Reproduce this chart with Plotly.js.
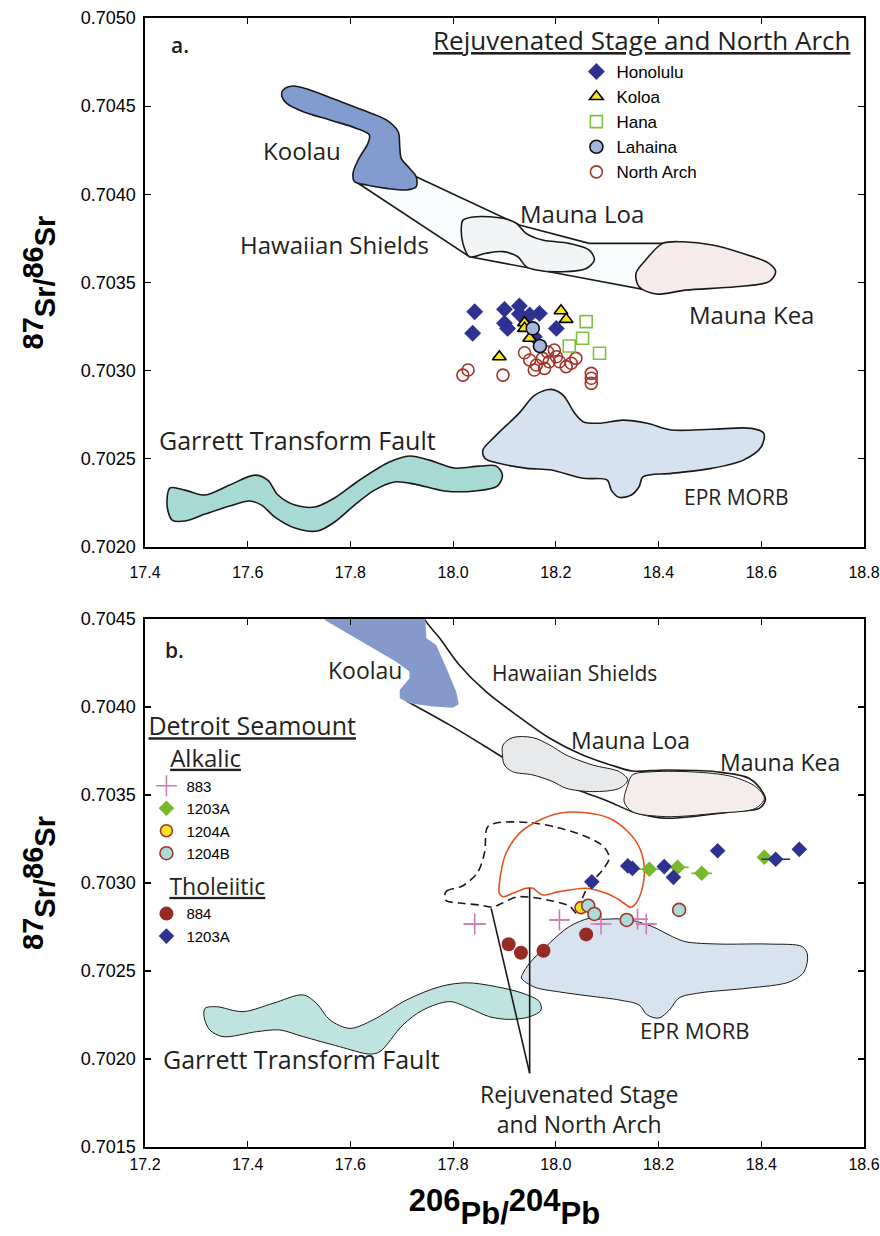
<!DOCTYPE html>
<html>
<head>
<meta charset="utf-8">
<script src="https://cdn.plot.ly/plotly-3.0.1.min.js"></script>
<style>html,body{margin:0;padding:0;background:#fff;}#chart{width:880px;height:1236px;}</style>
</head>
<body>
<div id="chart"></div>
<script>
// ---------------- Panel a: fields (data units: 206Pb/204Pb, 87Sr/86Sr) ----------------
const koolauA_x = [17.773,17.824,17.870,17.893,17.896,17.899,17.915,17.928,17.928,17.909,17.870,17.831,17.808,17.805,17.815,17.834,17.837,17.812,17.760,17.708,17.676,17.666,17.669,17.688,17.721];
const koolauA_y = [0.704535,0.704478,0.704422,0.704355,0.70427,0.704204,0.704148,0.7041,0.704043,0.704025,0.704034,0.704053,0.704072,0.704119,0.704195,0.704289,0.704336,0.704374,0.704422,0.704469,0.704516,0.704563,0.704592,0.704614,0.704592];
const shieldsA_x = [17.928,18.129,18.265,18.421,18.382,18.032,17.815,17.928];
const shieldsA_y = [0.7041,0.703826,0.703722,0.703722,0.703454,0.703646,0.704063,0.7041];
const maunaLoaA_x = [18.097,18.123,18.142,18.174,18.226,18.265,18.275,18.259,18.213,18.162,18.142,18.126,18.097,18.064,18.032,18.019,18.016,18.019,18.045];
const maunaLoaA_y = [0.703864,0.703836,0.703779,0.703741,0.703722,0.703684,0.703628,0.70358,0.703561,0.703571,0.70359,0.703646,0.703675,0.703666,0.703646,0.703722,0.703816,0.703854,0.703873];
const maunaKeaA_x = [18.447,18.505,18.563,18.615,18.628,18.615,18.550,18.453,18.395,18.362,18.356,18.375,18.408];
const maunaKeaA_y = [0.703731,0.703713,0.703666,0.703609,0.703561,0.703505,0.703476,0.703457,0.703435,0.703476,0.703552,0.703628,0.703722];
const garrettA_x = [17.818,17.876,17.915,17.954,18.003,18.051,18.084,18.096,18.086,18.042,17.983,17.925,17.886,17.847,17.808,17.769,17.736,17.692,17.653,17.627,17.604,17.565,17.517,17.478,17.453,17.443,17.449,17.478,17.517,17.565,17.614,17.639,17.659,17.692,17.731,17.769];
const garrettA_y = [0.70238,0.702482,0.702516,0.702493,0.702448,0.702459,0.702459,0.702408,0.702346,0.702318,0.702318,0.702357,0.702369,0.702323,0.702238,0.702142,0.702091,0.702108,0.70217,0.702238,0.702261,0.702233,0.702187,0.702148,0.702153,0.702238,0.702335,0.702323,0.702295,0.702352,0.702408,0.70238,0.702295,0.702238,0.702227,0.702278];
const eprA_x = [18.331,18.378,18.425,18.503,18.581,18.605,18.600,18.565,18.503,18.425,18.370,18.362,18.347,18.323,18.308,18.300,18.253,18.191,18.144,18.089,18.062,18.058,18.081,18.128,18.159,18.191,18.214,18.237,18.253,18.284];
const eprA_y = [0.70272,0.702702,0.702664,0.702668,0.702673,0.702645,0.702569,0.702493,0.702446,0.702418,0.702399,0.702342,0.702295,0.702282,0.702323,0.70238,0.70239,0.702437,0.702446,0.702475,0.702503,0.70255,0.702626,0.702758,0.702862,0.702894,0.702862,0.702758,0.702711,0.702702];

// ---------------- Panel a: samples ----------------
const honoluluX = [18.042,18.100,18.129,18.129,18.149,18.168,18.100,18.106,18.038,18.201,18.158];
const honoluluY = [0.703334,0.703348,0.703367,0.703321,0.703316,0.703325,0.703269,0.70324,0.703212,0.70324,0.703193];
const koloaX = [18.210,18.220,18.139,18.139,18.149,18.090];
const koloaY = [0.70334,0.703291,0.703272,0.70324,0.703184,0.703079];
const hanaX = [18.259,18.252,18.226,18.285];
const hanaY = [0.703278,0.703184,0.70314,0.703099];
const lahainaX = [18.155,18.169];
const lahainaY = [0.70324,0.70314];
const northArchX = [18.139,18.149,18.174,18.162,18.158,18.178,18.197,18.201,18.207,18.220,18.239,18.230,18.019,18.029,18.097,18.269,18.269,18.269,18.187,18.184];
const northArchY = [0.703102,0.703061,0.70307,0.703032,0.703004,0.703013,0.703117,0.703079,0.703051,0.703023,0.70307,0.703042,0.702975,0.703004,0.702975,0.702985,0.702957,0.702928,0.703051,0.703106];

// ---------------- Panel b: fields ----------------
const koolauB_x = [17.550,17.744,17.748,17.767,17.787,17.806,17.811,17.799,17.761,17.715,17.696,17.696,17.715,17.715,17.689,17.644,17.599,17.550];
const koolauB_y = [0.70458,0.70458,0.70439,0.704352,0.70422,0.704087,0.704015,0.703996,0.704002,0.704021,0.704049,0.704097,0.704163,0.704201,0.704257,0.704334,0.704409,0.704494];
const shieldsB_x = [17.735,17.744,17.774,17.812,17.864,17.923,17.988,18.052,18.117,18.149,18.214,18.312,18.376,18.402,18.408,18.396,18.344,18.214,18.149,18.104,18.052,17.988,17.923,17.858,17.793,17.709];
const shieldsB_y = [0.70458,0.7045,0.70439,0.704239,0.704087,0.703955,0.703822,0.703727,0.703661,0.703636,0.703642,0.703632,0.703595,0.703519,0.703472,0.703424,0.703405,0.703368,0.703405,0.703462,0.703519,0.703595,0.70367,0.703784,0.703898,0.704034];
const maunaLoaB_x = [17.916,17.955,17.988,18.020,18.072,18.124,18.140,18.124,18.072,18.020,17.994,17.955,17.916,17.900,17.896,17.897];
const maunaLoaB_y = [0.703826,0.703826,0.703784,0.703727,0.70367,0.703632,0.703585,0.703538,0.703519,0.703538,0.703576,0.703614,0.703632,0.70367,0.703727,0.703784];
const maunaKeaB_x = [18.188,18.279,18.344,18.389,18.406,18.389,18.312,18.214,18.149,18.133,18.140,18.149];
const maunaKeaB_y = [0.703632,0.703629,0.703604,0.703547,0.703481,0.703424,0.703396,0.703377,0.703405,0.703462,0.703557,0.703614];
const garrettB_x = [17.774,17.826,17.884,17.936,17.968,17.971,17.949,17.910,17.871,17.832,17.793,17.741,17.702,17.657,17.637,17.579,17.508,17.462,17.417,17.352,17.326,17.315,17.317,17.339,17.391,17.449,17.508,17.534,17.560,17.599,17.644,17.709];
const garrettB_y = [0.702411,0.702433,0.702411,0.702373,0.702326,0.702278,0.70224,0.702225,0.70224,0.702288,0.702326,0.702278,0.702193,0.702041,0.702028,0.70207,0.702127,0.702165,0.702155,0.702127,0.702165,0.70224,0.702288,0.702297,0.702269,0.702316,0.702364,0.702316,0.702222,0.702174,0.702222,0.702335];
const eprB_x = [18.318,18.415,18.480,18.490,18.483,18.454,18.376,18.279,18.240,18.221,18.201,18.178,18.162,18.124,18.065,18.007,17.958,17.933,17.936,17.949,17.988,18.026,18.065,18.085,18.137,18.188,18.227,18.253];
const eprB_y = [0.702653,0.702653,0.702638,0.702591,0.702494,0.702437,0.702403,0.702375,0.702347,0.702278,0.702233,0.70225,0.702307,0.702335,0.702358,0.702381,0.702409,0.70246,0.702487,0.702545,0.702659,0.702752,0.702799,0.702794,0.702794,0.702752,0.702695,0.702666];
const rejuvB_x = [17.783,17.787,17.818,17.847,17.861,17.867,17.884,17.949,18.007,18.065,18.094,18.104,18.091,18.079,18.059,18.052,18.046,18.042,18.026,17.993,17.949,17.923,17.896,17.877,17.851,17.812,17.787];
const rejuvB_y = [0.70292,0.702954,0.702983,0.703057,0.70317,0.703318,0.703341,0.703343,0.703312,0.703256,0.703204,0.703142,0.703074,0.703034,0.70296,0.702915,0.702864,0.702824,0.70287,0.702898,0.70292,0.70292,0.702886,0.702864,0.702875,0.702886,0.702898];
const detroitB_x = [18.007,18.059,18.104,18.137,18.162,18.172,18.169,18.156,18.146,18.124,18.098,18.059,18.007,17.974,17.955,17.942,17.916,17.897,17.890,17.894,17.903,17.929,17.962];
const detroitB_y = [0.703396,0.703399,0.703368,0.703301,0.703206,0.703093,0.702979,0.702885,0.702862,0.702903,0.702941,0.70297,0.702951,0.702932,0.70297,0.70297,0.702941,0.702922,0.702941,0.703074,0.703169,0.703282,0.703348];
// leader lines from the "Rejuvenated Stage and North Arch" label
const leaderStartX = [17.874,17.949];
const leaderStartY = [0.702856,0.70297];
const leaderEndX = 17.949, leaderEndY = 0.701919;

// ---------------- Panel b: Detroit Seamount samples ----------------
const s883X = [17.842,18.007,18.088,18.159,18.176];
const s883Y = [0.702767,0.70279,0.702767,0.702794,0.702767];
const s883Err = [0.022,0.020,0.010,0.015,0.020];
const alk1203X = [18.182,18.237,18.284,18.406];
const alk1203Y = [0.703078,0.703089,0.703055,0.703146];
const alk1203Err = [0.020,0.022,0.020,0.012];
const s1204AX = [18.049];
const s1204AY = [0.70286];
const s1204BX = [18.063,18.075,18.138,18.240];
const s1204BY = [0.702871,0.702824,0.70279,0.702847];
const s884X = [17.908,17.932,17.976,18.059];
const s884Y = [0.702652,0.702604,0.702615,0.702708];
const thol1203X = [18.070,18.140,18.149,18.211,18.229,18.315,18.428,18.474];
const thol1203Y = [0.703007,0.703097,0.703083,0.703093,0.703032,0.703183,0.703135,0.703191];
const thol1203Err = [0,0,0,0,0,0,0.028,0];

// ---------------- Axis ranges and tick labels ----------------
const xRangeA = [17.4,18.8], yRangeA = [0.7020,0.7050];
const xRangeB = [17.2,18.6], yRangeB = [0.7015,0.7045];
const xMinor = 0.05, yMinor = 0.0001;
const xTicksA = [17.4,17.6,17.8,18.0,18.2,18.4,18.6,18.8];
const yTicksA = [0.7020,0.7025,0.7030,0.7035,0.7040,0.7045,0.7050];
const xTicksB = [17.2,17.4,17.6,17.8,18.0,18.2,18.4,18.6];
const yTicksB = [0.7015,0.7020,0.7025,0.7030,0.7035,0.7040,0.7045];

// ---------------- Text labels ----------------
const labelsA = ['Koolau','Mauna Loa','Hawaiian Shields','Mauna Kea','Garrett Transform Fault','EPR MORB'];
const labelsAX = [17.705,18.250,17.769,18.580,17.696,18.551];
const labelsAY = [0.704251,0.703894,0.703713,0.703316,0.702607,0.702284];
const labelsASize = [24,24,24,24,25,21];
const labelsB = ['Koolau','Hawaiian Shields','Mauna Loa','Mauna Kea','EPR MORB','Garrett Transform Fault','Rejuvenated Stage<br>and North Arch'];
const labelsBX = [17.628,18.036,18.145,18.437,18.269,17.505,18.046];
const labelsBY = [0.70421,0.704193,0.703812,0.703687,0.702165,0.702,0.701716];
const labelsBSize = [23,21,23,23,22,25,23];

const fieldFamily = 'Open Sans, Noto Sans, sans-serif';
const helv = 'Liberation Sans, Arial, Helvetica, sans-serif';
const sized = (t, s) => '<span style="font-size:'+s+'px">'+t+'</span>';

function field(x, y, fill, xa, ya, opts) {
  opts = opts || {};
  const closed = fill !== null || opts.closed;
  return {
    type:'scatter', mode:'lines',
    x: closed ? x.concat([x[0]]) : x, y: closed ? y.concat([y[0]]) : y,
    xaxis:xa, yaxis:ya,
    fill: fill ? 'toself' : 'none', fillcolor: fill || 'rgba(0,0,0,0)',
    line:{color: opts.lineColor || '#1a1a1a', width: opts.width || 1.6, shape: opts.shape || 'spline', smoothing: 0.9, dash: opts.dash || 'solid'},
    showlegend:false, hoverinfo:'skip'
  };
}

const traces = [
  field(shieldsA_x, shieldsA_y, 'rgba(242,250,253,0.35)', 'x', 'y', {shape:'linear'}),
  field(koolauA_x, koolauA_y, '#839ccf', 'x', 'y'),
  field(maunaLoaA_x, maunaLoaA_y, '#f3f4f6', 'x', 'y'),
  field(maunaKeaA_x, maunaKeaA_y, '#f6eaeb', 'x', 'y'),
  field(garrettA_x, garrettA_y, '#a8dad5', 'x', 'y'),
  field(eprA_x, eprA_y, '#d7e2f0', 'x', 'y'),
  {type:'scatter', mode:'markers', name:'North Arch', x:northArchX, y:northArchY, xaxis:'x', yaxis:'y', legend:'legend', legendrank:5,
   marker:{symbol:'circle-open', size:12, color:'#a3342b', line:{width:1.6}}},
  {type:'scatter', mode:'markers', name:'Hana', x:hanaX, y:hanaY, xaxis:'x', yaxis:'y', legend:'legend', legendrank:3,
   marker:{symbol:'square-open', size:12, color:'#7dc142', line:{width:1.6}}},
  {type:'scatter', mode:'markers', name:'Honolulu', x:honoluluX, y:honoluluY, xaxis:'x', yaxis:'y', legend:'legend', legendrank:1,
   marker:{symbol:'diamond', size:13, color:'#2e3192'}},
  {type:'scatter', mode:'markers', name:'Koloa', x:koloaX, y:koloaY, xaxis:'x', yaxis:'y', legend:'legend', legendrank:2,
   marker:{symbol:'triangle-up', size:12, color:'#f7e51c', line:{color:'#000', width:1.6}}},
  {type:'scatter', mode:'markers', name:'Lahaina', x:lahainaX, y:lahainaY, xaxis:'x', yaxis:'y', legend:'legend', legendrank:4,
   marker:{symbol:'circle', size:13, color:'#a4b6de', line:{color:'#111', width:1.6}}},
  field(shieldsB_x, shieldsB_y, null, 'x2', 'y2'),
  field(koolauB_x, koolauB_y, '#8599cb', 'x2', 'y2', {lineColor:'rgba(0,0,0,0)', width:0.1, shape:'linear'}),
  field(maunaLoaB_x, maunaLoaB_y, '#e8e9eb', 'x2', 'y2', {width:1}),
  field(maunaKeaB_x, maunaKeaB_y, '#f5ecec', 'x2', 'y2', {width:1}),
  field(garrettB_x, garrettB_y, '#bfe4e0', 'x2', 'y2', {width:1}),
  field(eprB_x, eprB_y, '#d8e3f0', 'x2', 'y2', {width:1}),
  field(rejuvB_x, rejuvB_y, null, 'x2', 'y2', {dash:'8px,5px', width:1.6, closed:true}),
  field(detroitB_x, detroitB_y, null, 'x2', 'y2', {lineColor:'#e4501e', width:1.6, closed:true}),
  {type:'scatter', mode:'markers', name:'883', x:s883X, y:s883Y, xaxis:'x2', yaxis:'y2', legend:'legend2', legendrank:1,
   legendgroup:'alk', legendgrouptitle:{text:'&nbsp;&nbsp;&nbsp;<u>Alkalic</u>', font:{family:fieldFamily, size:24, color:'#231f20'}},
   error_x:{type:'data', array:s883Err, color:'#d27ab4', thickness:1.6, width:0},
   marker:{symbol:'cross-thin', size:15, color:'#d27ab4', line:{color:'#d27ab4', width:1.6}}},
  {type:'scatter', mode:'markers', name:'1203A', x:alk1203X, y:alk1203Y, xaxis:'x2', yaxis:'y2', legend:'legend2', legendrank:2,
   legendgroup:'alk',
   error_x:{type:'data', array:alk1203Err, color:'#78b829', thickness:1.6, width:0},
   marker:{symbol:'diamond', size:12, color:'#78b829'}},
  {type:'scatter', mode:'markers', name:'1204A', x:s1204AX, y:s1204AY, xaxis:'x2', yaxis:'y2', legend:'legend2', legendrank:3,
   legendgroup:'alk',
   marker:{symbol:'circle', size:12, color:'#f7e41b', line:{color:'#a3342b', width:1.6}}},
  {type:'scatter', mode:'markers', name:'1204B', x:s1204BX, y:s1204BY, xaxis:'x2', yaxis:'y2', legend:'legend2', legendrank:4,
   legendgroup:'alk',
   marker:{symbol:'circle', size:13, color:'#a9dcd7', line:{color:'#a3342b', width:1.6}}},
  {type:'scatter', mode:'markers', name:'884', x:s884X, y:s884Y, xaxis:'x2', yaxis:'y2', legend:'legend2', legendrank:5,
   legendgroup:'thol', legendgrouptitle:{text:'&nbsp;&nbsp;&nbsp;<u>Tholeiitic</u>', font:{family:fieldFamily, size:23, color:'#231f20'}},
   marker:{symbol:'circle', size:14, color:'#962a24'}},
  {type:'scatter', mode:'markers', name:'1203A', x:thol1203X, y:thol1203Y, xaxis:'x2', yaxis:'y2', legend:'legend2', legendrank:6,
   legendgroup:'thol',
   error_x:{type:'data', array:thol1203Err, color:'#2e3192', thickness:1.6, width:0},
   marker:{symbol:'diamond', size:12, color:'#2e3192'}}
];

const annotations = [];
labelsA.forEach((t,i)=>annotations.push({text:t, x:labelsAX[i], y:labelsAY[i], xref:'x', yref:'y', showarrow:false,
  font:{family:fieldFamily, size:labelsASize[i], color:'#231f20'}}));
labelsB.forEach((t,i)=>annotations.push({text:t, x:labelsBX[i], y:labelsBY[i], xref:'x2', yref:'y2', showarrow:false,
  font:{family:fieldFamily, size:labelsBSize[i], color:'#231f20'}}));
annotations.push({text:'a.', x:17.468, y:0.704847, xref:'x', yref:'y', showarrow:false, font:{family:fieldFamily, size:21, color:'#231f20', weight:600}});
annotations.push({text:'b.', x:17.258, y:0.704324, xref:'x2', yref:'y2', showarrow:false, font:{family:fieldFamily, size:21, color:'#231f20', weight:600}});
annotations.push({text:'<u>Rejuvenated Stage and North Arch</u>', x:18.366, y:0.704876, xref:'x', yref:'y', showarrow:false,
  font:{family:fieldFamily, size:26, color:'#231f20'}});

const shapes = leaderStartX.map((x0,i)=>({type:'line', xref:'x2', yref:'y2', x0:x0, y0:leaderStartY[i], x1:leaderEndX, y1:leaderEndY, line:{color:'#1a1a1a', width:1.6}}));

function majorAxis(vals, digits, size, extra) {
  return Object.assign({
    showline:true, linecolor:'#000', linewidth:1.6, mirror:'allticks',
    ticks:'inside', ticklen:6, tickwidth:1.2, tickcolor:'#000',
    tickmode:'array', tickvals:vals, ticktext:vals.map(v=>sized(v.toFixed(digits), size)),
    tickfont:{family:helv, size:size, color:'#000'},
    showgrid:false, zeroline:false, fixedrange:true, ticklabeloverflow:'allow'
  }, extra);
}
function minorAxis(extra) {
  return Object.assign({
    showline:false, mirror:'ticks', ticks:'inside', ticklen:5, tickwidth:1.1, tickcolor:'#000',
    showticklabels:false, showgrid:false, zeroline:false, fixedrange:true
  }, extra);
}

const supNum = (n, s) => '<sup><span style="font-size:'+s+'px">'+n+'</span></sup>';
const yTitle = {text: supNum('87',29)+'Sr/'+supNum('86',29)+'Sr', font:{family:helv, size:29, color:'#000', weight:'bold'}, standoff:16};
const domYA = [0.5314,1], domYB = [0,0.4677];

const layout = {
  width:880, height:1236,
  margin:{l:145, r:16, t:18, b:89},
  paper_bgcolor:'#fff', plot_bgcolor:'#fff',
  font:{family:helv, size:18, color:'#000'},
  showlegend:true,
  xaxis: majorAxis(xTicksA, 1, 16, {domain:[0,1], range:xRangeA, anchor:'y', ticklabelstandoff:10}),
  yaxis: majorAxis(yTicksA, 4, 18, {domain:domYA, range:yRangeA, anchor:'x', ticklabelstandoff:4, title:yTitle}),
  xaxis2: majorAxis(xTicksB, 1, 16, {domain:[0,1], range:xRangeB, anchor:'y2', ticklabelstandoff:2,
    title:{text: supNum('206',31)+'Pb/'+supNum('204',31)+'Pb', font:{family:helv, size:31, color:'#000', weight:'bold'}, standoff:30}}),
  yaxis2: majorAxis(yTicksB, 4, 18, {domain:domYB, range:yRangeB, anchor:'x2', ticklabelstandoff:4, title:yTitle}),
  xaxis3: minorAxis({overlaying:'x', anchor:'y', range:xRangeA, dtick:xMinor, tick0:xRangeA[0]}),
  yaxis3: minorAxis({overlaying:'y', anchor:'x', range:yRangeA, dtick:yMinor, tick0:yRangeA[0]}),
  xaxis4: minorAxis({overlaying:'x2', anchor:'y2', range:xRangeB, dtick:xMinor, tick0:xRangeB[0]}),
  yaxis4: minorAxis({overlaying:'y2', anchor:'x2', range:yRangeB, dtick:yMinor, tick0:yRangeB[0]}),
  legend:{x:0.6, y:0.9682, xanchor:'left', yanchor:'top', bgcolor:'rgba(0,0,0,0)', borderwidth:0,
    font:{family:helv, size:17, color:'#000'}, itemwidth:30, tracegroupgap:0},
  legend2:{x:0.002, y:0.3935, xanchor:'left', yanchor:'top', bgcolor:'rgba(0,0,0,0)', borderwidth:0,
    title:{text:'<u>Detroit Seamount</u>', font:{family:fieldFamily, size:25, color:'#231f20'}},
    font:{family:helv, size:15, color:'#000'}, itemwidth:30, tracegroupgap:5},
  annotations: annotations,
  shapes: shapes
};

Plotly.newPlot('chart', traces, layout, {staticPlot:true, displayModeBar:false});
</script>
</body>
</html>
